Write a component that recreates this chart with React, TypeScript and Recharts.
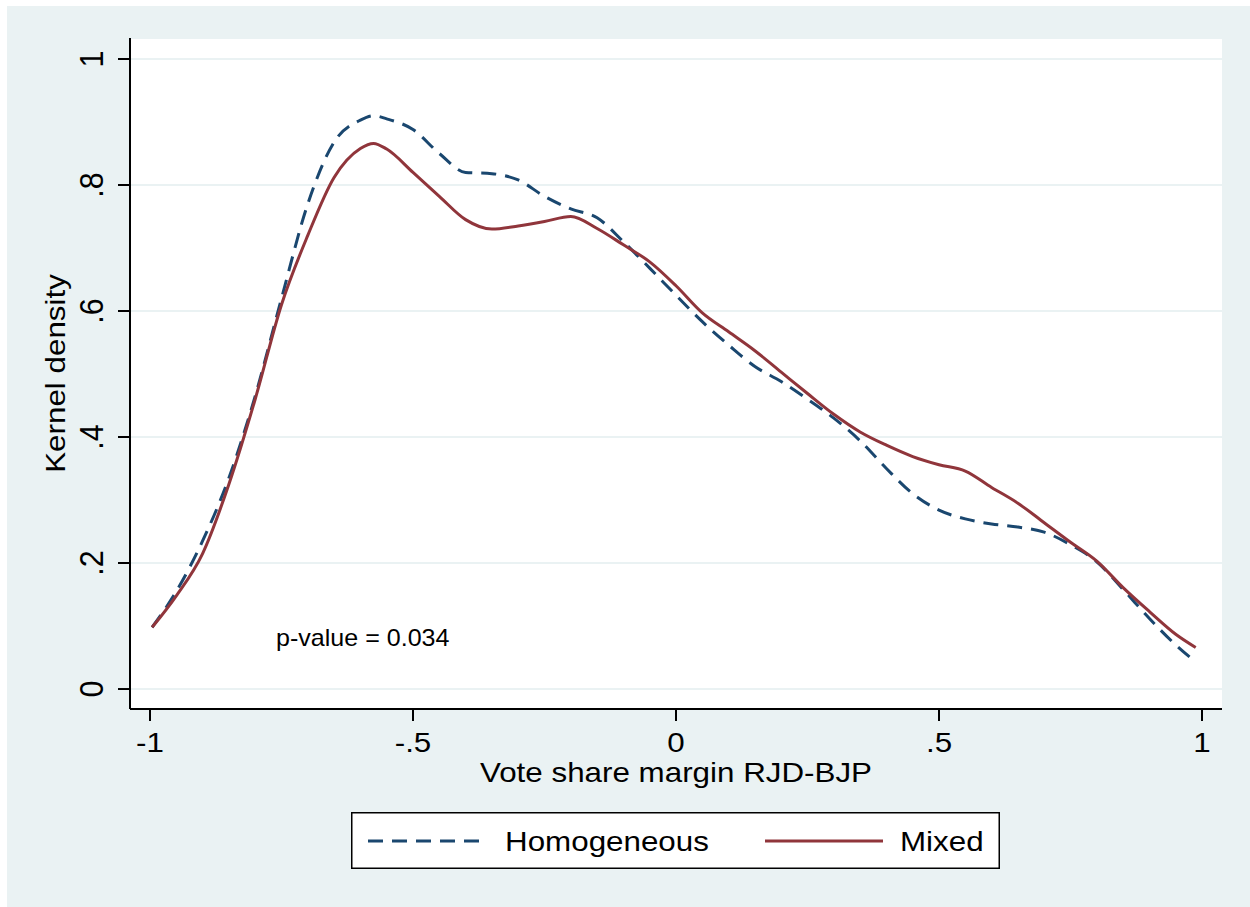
import React from "react";
import { LineChart, Line, XAxis, YAxis, CartesianGrid, Legend } from "recharts";

const xs = [-0.996, -0.95, -0.9, -0.85, -0.8, -0.75, -0.7, -0.65, -0.6, -0.575, -0.55, -0.5, -0.45, -0.4, -0.35, -0.3, -0.25, -0.2, -0.15, -0.1, -0.05, 0, 0.05, 0.1, 0.15, 0.2, 0.25, 0.3, 0.35, 0.4, 0.45, 0.5, 0.55, 0.6, 0.65, 0.7, 0.75, 0.8, 0.85, 0.9, 0.95, 0.988];

const homogeneous = [0.098, 0.155, 0.235, 0.335, 0.465, 0.62, 0.77, 0.868, 0.903, 0.91, 0.905, 0.888, 0.85, 0.82, 0.818, 0.808, 0.782, 0.762, 0.748, 0.71, 0.668, 0.625, 0.583, 0.546, 0.512, 0.488, 0.46, 0.43, 0.394, 0.35, 0.31, 0.284, 0.27, 0.262, 0.257, 0.249, 0.229, 0.202, 0.158, 0.112, 0.07, 0.043];

const mixed = [0.098, 0.148, 0.215, 0.325, 0.46, 0.61, 0.72, 0.812, 0.858, 0.866, 0.857, 0.82, 0.782, 0.745, 0.73, 0.735, 0.742, 0.75, 0.731, 0.705, 0.678, 0.64, 0.597, 0.567, 0.537, 0.503, 0.469, 0.436, 0.408, 0.387, 0.369, 0.356, 0.346, 0.32, 0.295, 0.264, 0.233, 0.203, 0.161, 0.123, 0.087, 0.066];

const xTickValues = [-1, -0.5, 0, 0.5, 1];
const xTickLabels = ["-1", "-.5", "0", ".5", "1"];
const yTickValues = [0, 0.2, 0.4, 0.6, 0.8, 1];
const yTickLabels = ["0", ".2", ".4", ".6", ".8", "1"];

const seriesNames = ["Homogeneous", "Mixed"];
const xTitle = "Vote share margin RJD-BJP";
const yTitle = "Kernel density";
const note = "p-value = 0.034";

const data = xs.map((x, i) => ({ x, homogeneous: homogeneous[i], mixed: mixed[i] }));

const FONT = "'Liberation Sans', Arial, Helvetica, sans-serif";
const BLUE = "#1A476F";
const RED = "#90353B";
const BG = "#EAF2F3";
const SX = 1.12;

const XTick = (props: any) => {
  const { x, y, payload } = props;
  const idx = xTickValues.indexOf(payload.value);
  return (
    <text transform={`translate(${x},${y + 31}) scale(${SX},1)`} textAnchor="middle" fontSize={28} fontFamily={FONT} fill="#000">
      {idx >= 0 ? xTickLabels[idx] : payload.value}
    </text>
  );
};

const YTick = (props: any) => {
  const { x, y, payload } = props;
  const idx = yTickValues.indexOf(payload.value);
  return (
    <text transform={`translate(${x - 15},${y}) rotate(-90) scale(1.05,1.15)`} textAnchor="middle" fontSize={29} fontFamily={FONT} fill="#000">
      {idx >= 0 ? yTickLabels[idx] : payload.value}
    </text>
  );
};

const XTitle = (props: any) => {
  const vb = props.viewBox || { x: 130, y: 709, width: 1092, height: 60 };
  return (
    <text transform={`translate(${vb.x + vb.width / 2},${vb.y + 73}) scale(${SX},1)`} textAnchor="middle" fontSize={28} fontFamily={FONT} fill="#000">
      {xTitle}
    </text>
  );
};

const YTitle = (props: any) => {
  const vb = props.viewBox || { x: 70, y: 38, width: 60, height: 671 };
  return (
    <text transform={`translate(${vb.x - 5},${vb.y + vb.height / 2}) rotate(-90) scale(${SX},1)`} textAnchor="middle" fontSize={28} fontFamily={FONT} fill="#000">
      {yTitle}
    </text>
  );
};

const LegendBox = (props: any) => {
  const payload = props.payload || [];
  const find = (key: string) => payload.find((p: any) => p.dataKey === key) || {};
  const h = find("homogeneous");
  const m = find("mixed");
  return (
    <svg width={649} height={57} style={{ display: "block" }}>
      <rect x={0.75} y={0.75} width={647.5} height={55.5} fill="#fff" stroke="#000" strokeWidth={1.5} />
      <line x1={17} x2={136} y1={29} y2={29} stroke={BLUE} strokeWidth={3} strokeDasharray="15 9" />
      <text transform={`translate(154,39) scale(${SX},1)`} fontSize={28} fontFamily={FONT} fill="#000">
        {h.value || seriesNames[0]}
      </text>
      <line x1={414} x2={532} y1={29} y2={29} stroke={RED} strokeWidth={3} />
      <text transform={`translate(549,39) scale(${SX},1)`} fontSize={28} fontFamily={FONT} fill="#000">
        {m.value || seriesNames[1]}
      </text>
    </svg>
  );
};

export default function App() {
  return (
    <div style={{ position: "absolute", left: 0, top: 0, width: 1250, height: 907 }}>
      <div style={{ position: "absolute", left: 7, top: 6, width: 1243, height: 901, background: BG }} />
      <div style={{ position: "absolute", left: 0, top: 0 }}>
        <LineChart width={1250} height={907} data={data} margin={{ top: 38, right: 28, bottom: 138, left: 70 }}>
          <CartesianGrid vertical={false} fill="#ffffff" stroke={BG} strokeWidth={2} />
          <XAxis
            type="number"
            dataKey="x"
            domain={[-1.038, 1.038]}
            ticks={xTickValues}
            allowDataOverflow
            height={60}
            tickSize={12}
            tickMargin={0}
            axisLine={{ stroke: "#000", strokeWidth: 2 }}
            tickLine={{ stroke: "#000", strokeWidth: 2 }}
            tick={<XTick />}
            label={{ content: (p: any) => <XTitle {...p} /> }}
          />
          <YAxis
            type="number"
            domain={[-0.0317, 1.0333]}
            ticks={yTickValues}
            allowDataOverflow
            width={60}
            tickSize={12}
            tickMargin={0}
            axisLine={{ stroke: "#000", strokeWidth: 2 }}
            tickLine={{ stroke: "#000", strokeWidth: 2 }}
            tick={<YTick />}
            label={{ content: (p: any) => <YTitle {...p} /> }}
          />
          <Legend
            layout="vertical"
            align="center"
            verticalAlign="middle"
            wrapperStyle={{ left: 351, top: 812, width: 649, height: 57 }}
            content={(p: any) => <LegendBox {...p} />}
          />
          <Line
            type="monotone"
            dataKey="homogeneous"
            name={seriesNames[0]}
            stroke={BLUE}
            strokeWidth={3}
            strokeDasharray="15 9"
            dot={false}
            isAnimationActive={false}
          />
          <Line
            type="monotone"
            dataKey="mixed"
            name={seriesNames[1]}
            stroke={RED}
            strokeWidth={3}
            dot={false}
            isAnimationActive={false}
          />
        </LineChart>
      </div>
      <svg width={1250} height={907} style={{ position: "absolute", left: 0, top: 0, pointerEvents: "none" }}>
        <text transform={`translate(276,646) scale(1.09,1)`} fontSize={23} fontFamily={FONT} fill="#000">
          {note}
        </text>
      </svg>
    </div>
  );
}
